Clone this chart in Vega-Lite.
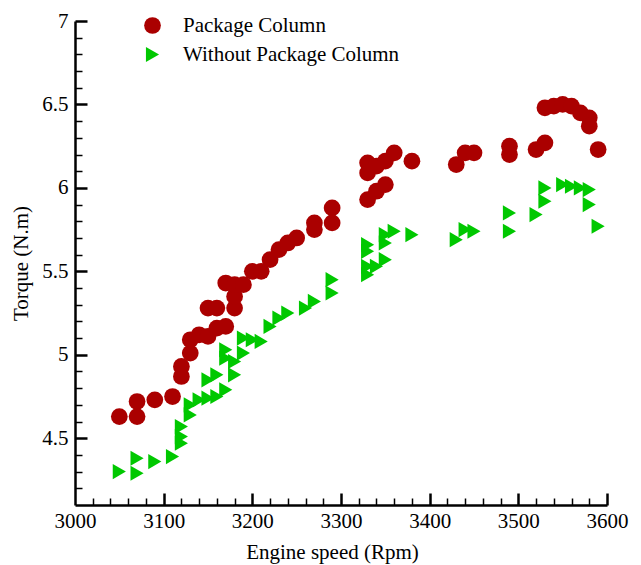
{
  "$schema": "https://vega.github.io/schema/vega-lite/v6.json",
  "width": 532,
  "height": 484,
  "autosize": {"type": "none"},
  "padding": {"left": 75, "top": 21, "right": 34, "bottom": 60},
  "background": "white",
  "config": {
    "view": {"stroke": null},
    "axis": {
      "domainColor": "black",
      "domainWidth": 2.5,
      "tickColor": "black",
      "grid": false
    }
  },
  "data": {
    "values": [
      {"rpm": 3050, "torque": 4.63, "series": "Package Column"},
      {"rpm": 3070, "torque": 4.72, "series": "Package Column"},
      {"rpm": 3070, "torque": 4.63, "series": "Package Column"},
      {"rpm": 3090, "torque": 4.73, "series": "Package Column"},
      {"rpm": 3110, "torque": 4.75, "series": "Package Column"},
      {"rpm": 3120, "torque": 4.87, "series": "Package Column"},
      {"rpm": 3120, "torque": 4.93, "series": "Package Column"},
      {"rpm": 3130, "torque": 5.01, "series": "Package Column"},
      {"rpm": 3130, "torque": 5.09, "series": "Package Column"},
      {"rpm": 3140, "torque": 5.12, "series": "Package Column"},
      {"rpm": 3150, "torque": 5.28, "series": "Package Column"},
      {"rpm": 3150, "torque": 5.11, "series": "Package Column"},
      {"rpm": 3160, "torque": 5.28, "series": "Package Column"},
      {"rpm": 3160, "torque": 5.16, "series": "Package Column"},
      {"rpm": 3170, "torque": 5.17, "series": "Package Column"},
      {"rpm": 3170, "torque": 5.43, "series": "Package Column"},
      {"rpm": 3180, "torque": 5.28, "series": "Package Column"},
      {"rpm": 3180, "torque": 5.35, "series": "Package Column"},
      {"rpm": 3180, "torque": 5.42, "series": "Package Column"},
      {"rpm": 3190, "torque": 5.42, "series": "Package Column"},
      {"rpm": 3200, "torque": 5.50, "series": "Package Column"},
      {"rpm": 3210, "torque": 5.50, "series": "Package Column"},
      {"rpm": 3220, "torque": 5.57, "series": "Package Column"},
      {"rpm": 3230, "torque": 5.63, "series": "Package Column"},
      {"rpm": 3240, "torque": 5.67, "series": "Package Column"},
      {"rpm": 3250, "torque": 5.70, "series": "Package Column"},
      {"rpm": 3270, "torque": 5.79, "series": "Package Column"},
      {"rpm": 3270, "torque": 5.75, "series": "Package Column"},
      {"rpm": 3290, "torque": 5.88, "series": "Package Column"},
      {"rpm": 3290, "torque": 5.79, "series": "Package Column"},
      {"rpm": 3330, "torque": 6.15, "series": "Package Column"},
      {"rpm": 3330, "torque": 6.09, "series": "Package Column"},
      {"rpm": 3330, "torque": 5.93, "series": "Package Column"},
      {"rpm": 3340, "torque": 5.98, "series": "Package Column"},
      {"rpm": 3350, "torque": 6.02, "series": "Package Column"},
      {"rpm": 3340, "torque": 6.13, "series": "Package Column"},
      {"rpm": 3350, "torque": 6.16, "series": "Package Column"},
      {"rpm": 3360, "torque": 6.21, "series": "Package Column"},
      {"rpm": 3380, "torque": 6.16, "series": "Package Column"},
      {"rpm": 3430, "torque": 6.14, "series": "Package Column"},
      {"rpm": 3440, "torque": 6.21, "series": "Package Column"},
      {"rpm": 3450, "torque": 6.21, "series": "Package Column"},
      {"rpm": 3490, "torque": 6.25, "series": "Package Column"},
      {"rpm": 3490, "torque": 6.20, "series": "Package Column"},
      {"rpm": 3520, "torque": 6.23, "series": "Package Column"},
      {"rpm": 3530, "torque": 6.27, "series": "Package Column"},
      {"rpm": 3530, "torque": 6.48, "series": "Package Column"},
      {"rpm": 3540, "torque": 6.49, "series": "Package Column"},
      {"rpm": 3550, "torque": 6.50, "series": "Package Column"},
      {"rpm": 3560, "torque": 6.49, "series": "Package Column"},
      {"rpm": 3570, "torque": 6.45, "series": "Package Column"},
      {"rpm": 3580, "torque": 6.42, "series": "Package Column"},
      {"rpm": 3580, "torque": 6.37, "series": "Package Column"},
      {"rpm": 3590, "torque": 6.23, "series": "Package Column"},
      {"rpm": 3050, "torque": 4.30, "series": "Without  Package Column"},
      {"rpm": 3070, "torque": 4.38, "series": "Without  Package Column"},
      {"rpm": 3070, "torque": 4.29, "series": "Without  Package Column"},
      {"rpm": 3090, "torque": 4.36, "series": "Without  Package Column"},
      {"rpm": 3110, "torque": 4.39, "series": "Without  Package Column"},
      {"rpm": 3120, "torque": 4.47, "series": "Without  Package Column"},
      {"rpm": 3120, "torque": 4.51, "series": "Without  Package Column"},
      {"rpm": 3120, "torque": 4.57, "series": "Without  Package Column"},
      {"rpm": 3130, "torque": 4.64, "series": "Without  Package Column"},
      {"rpm": 3130, "torque": 4.70, "series": "Without  Package Column"},
      {"rpm": 3140, "torque": 4.73, "series": "Without  Package Column"},
      {"rpm": 3150, "torque": 4.74, "series": "Without  Package Column"},
      {"rpm": 3160, "torque": 4.75, "series": "Without  Package Column"},
      {"rpm": 3170, "torque": 4.79, "series": "Without  Package Column"},
      {"rpm": 3150, "torque": 4.85, "series": "Without  Package Column"},
      {"rpm": 3160, "torque": 4.88, "series": "Without  Package Column"},
      {"rpm": 3180, "torque": 4.88, "series": "Without  Package Column"},
      {"rpm": 3170, "torque": 5.03, "series": "Without  Package Column"},
      {"rpm": 3170, "torque": 4.98, "series": "Without  Package Column"},
      {"rpm": 3180, "torque": 4.96, "series": "Without  Package Column"},
      {"rpm": 3190, "torque": 5.10, "series": "Without  Package Column"},
      {"rpm": 3190, "torque": 5.01, "series": "Without  Package Column"},
      {"rpm": 3200, "torque": 5.09, "series": "Without  Package Column"},
      {"rpm": 3210, "torque": 5.08, "series": "Without  Package Column"},
      {"rpm": 3220, "torque": 5.17, "series": "Without  Package Column"},
      {"rpm": 3230, "torque": 5.22, "series": "Without  Package Column"},
      {"rpm": 3240, "torque": 5.25, "series": "Without  Package Column"},
      {"rpm": 3260, "torque": 5.28, "series": "Without  Package Column"},
      {"rpm": 3270, "torque": 5.32, "series": "Without  Package Column"},
      {"rpm": 3290, "torque": 5.45, "series": "Without  Package Column"},
      {"rpm": 3290, "torque": 5.37, "series": "Without  Package Column"},
      {"rpm": 3330, "torque": 5.66, "series": "Without  Package Column"},
      {"rpm": 3330, "torque": 5.62, "series": "Without  Package Column"},
      {"rpm": 3330, "torque": 5.53, "series": "Without  Package Column"},
      {"rpm": 3330, "torque": 5.48, "series": "Without  Package Column"},
      {"rpm": 3340, "torque": 5.53, "series": "Without  Package Column"},
      {"rpm": 3350, "torque": 5.57, "series": "Without  Package Column"},
      {"rpm": 3350, "torque": 5.72, "series": "Without  Package Column"},
      {"rpm": 3350, "torque": 5.67, "series": "Without  Package Column"},
      {"rpm": 3360, "torque": 5.74, "series": "Without  Package Column"},
      {"rpm": 3380, "torque": 5.72, "series": "Without  Package Column"},
      {"rpm": 3430, "torque": 5.69, "series": "Without  Package Column"},
      {"rpm": 3440, "torque": 5.75, "series": "Without  Package Column"},
      {"rpm": 3450, "torque": 5.74, "series": "Without  Package Column"},
      {"rpm": 3490, "torque": 5.85, "series": "Without  Package Column"},
      {"rpm": 3490, "torque": 5.74, "series": "Without  Package Column"},
      {"rpm": 3520, "torque": 5.84, "series": "Without  Package Column"},
      {"rpm": 3530, "torque": 6.00, "series": "Without  Package Column"},
      {"rpm": 3530, "torque": 5.92, "series": "Without  Package Column"},
      {"rpm": 3550, "torque": 6.02, "series": "Without  Package Column"},
      {"rpm": 3560, "torque": 6.01, "series": "Without  Package Column"},
      {"rpm": 3570, "torque": 6.00, "series": "Without  Package Column"},
      {"rpm": 3580, "torque": 5.99, "series": "Without  Package Column"},
      {"rpm": 3580, "torque": 5.90, "series": "Without  Package Column"},
      {"rpm": 3590, "torque": 5.77, "series": "Without  Package Column"}
    ]
  },
  "layer": [
    {
      "mark": {"type": "point", "filled": true, "opacity": 0, "strokeWidth": 0},
      "encoding": {
        "x": {
          "field": "rpm",
          "type": "quantitative",
          "scale": {"domain": [3000, 3600], "nice": false, "zero": false},
          "axis": {
            "orient": "bottom",
            "title": null,
            "labels": false,
            "domain": false,
            "ticks": true,
            "offset": -7,
            "values": [3020,3040,3060,3080,3120,3140,3160,3180,3220,3240,3260,3280,3320,3340,3360,3380,3420,3440,3460,3480,3520,3540,3560,3580],
            "tickSize": 7,
            "tickWidth": 1.5,
            "tickColor": "black",
            "tickOpacity": 1,
            "zindex": 2
          }
        },
        "y": {
          "field": "torque",
          "type": "quantitative",
          "scale": {"domain": [4.1, 7], "nice": false, "zero": false},
          "axis": {
            "orient": "left",
            "title": null,
            "labels": false,
            "domain": false,
            "ticks": true,
            "offset": -7,
            "values": [4.2,4.3,4.4,4.6,4.7,4.8,4.9,5.1,5.2,5.3,5.4,5.6,5.7,5.8,5.9,6.1,6.2,6.3,6.4,6.6,6.7,6.8,6.9],
            "tickSize": 7,
            "tickWidth": 1.5,
            "tickColor": "black",
            "tickOpacity": 1,
            "zindex": 2
          }
        }
      }
    },
    {
      "mark": {"type": "point", "filled": true, "opacity": 0, "strokeWidth": 0},
      "encoding": {
        "x": {
          "field": "rpm",
          "type": "quantitative",
          "scale": {"domain": [3000, 3600], "nice": false, "zero": false},
          "axis": {
            "orient": "bottom",
            "title": null,
            "labels": false,
            "domain": false,
            "ticks": true,
            "offset": -12,
            "values": [3100,3200,3300,3400,3500,3600],
            "tickSize": 12,
            "tickWidth": 2.5,
            "tickColor": "black",
            "tickOpacity": 1,
            "zindex": 2
          }
        },
        "y": {
          "field": "torque",
          "type": "quantitative",
          "scale": {"domain": [4.1, 7], "nice": false, "zero": false},
          "axis": {
            "orient": "left",
            "title": null,
            "labels": false,
            "domain": false,
            "ticks": true,
            "offset": -12,
            "values": [4.5,5,5.5,6,6.5,7],
            "tickSize": 12,
            "tickWidth": 2.5,
            "tickColor": "black",
            "tickOpacity": 1,
            "zindex": 2
          }
        }
      }
    },
    {
      "mark": {"type": "point", "filled": true, "opacity": 1, "strokeWidth": 0},
      "encoding": {
        "x": {
          "field": "rpm",
          "type": "quantitative",
          "scale": {"domain": [3000, 3600], "nice": false, "zero": false},
          "axis": {
            "orient": "bottom",
            "title": "Engine speed (Rpm)",
            "titleFont": "Liberation Serif",
            "titleFontSize": 21,
            "titleFontWeight": "normal",
            "titleColor": "black",
            "titleX": 257,
            "titleY": 53,
            "titleBaseline": "alphabetic",
            "labelFont": "Liberation Serif",
            "labelFontSize": 21,
            "labelColor": "black",
            "values": [3000,3100,3200,3300,3400,3500,3600],
            "format": "d",
            "ticks": false,
            "labelPadding": 5,
            "labelFlush": false,
            "labelOverlap": false,
            "zindex": 1
          }
        },
        "y": {
          "field": "torque",
          "type": "quantitative",
          "scale": {"domain": [4.1, 7], "nice": false, "zero": false},
          "axis": {
            "orient": "left",
            "title": "Torque (N.m)",
            "titleFont": "Liberation Serif",
            "titleFontSize": 21,
            "titleFontWeight": "normal",
            "titleColor": "black",
            "titleX": -48,
            "titleBaseline": "alphabetic",
            "labelFont": "Liberation Serif",
            "labelFontSize": 21,
            "labelColor": "black",
            "values": [4.5,5,5.5,6,6.5,7],
            "format": "~g",
            "ticks": false,
            "labelPadding": 7,
            "labelFlush": false,
            "labelOverlap": false,
            "zindex": 1
          }
        },
        "size": {
          "field": "series",
          "type": "nominal",
          "scale": {"domain": ["Package Column", "Without  Package Column"], "range": [280, 230]},
          "legend": null
        },
        "color": {
          "field": "series",
          "type": "nominal",
          "scale": {"domain": ["Package Column", "Without  Package Column"], "range": ["#AA0000", "#00C800"]},
          "legend": {
            "title": null,
            "orient": "none",
            "legendX": 67,
            "legendY": -6,
            "symbolSize": 260,
            "symbolStrokeWidth": 0,
            "labelFont": "Liberation Serif",
            "labelFontSize": 21,
            "labelColor": "black",
            "labelLimit": 0,
            "labelOffset": 20,
            "rowPadding": 7
          }
        },
        "shape": {
          "field": "series",
          "type": "nominal",
          "scale": {"domain": ["Package Column", "Without  Package Column"], "range": ["circle", "triangle-right"]}
        }
      }
    }
  ],
  "resolve": {"axis": {"x": "independent", "y": "independent"}}
}
